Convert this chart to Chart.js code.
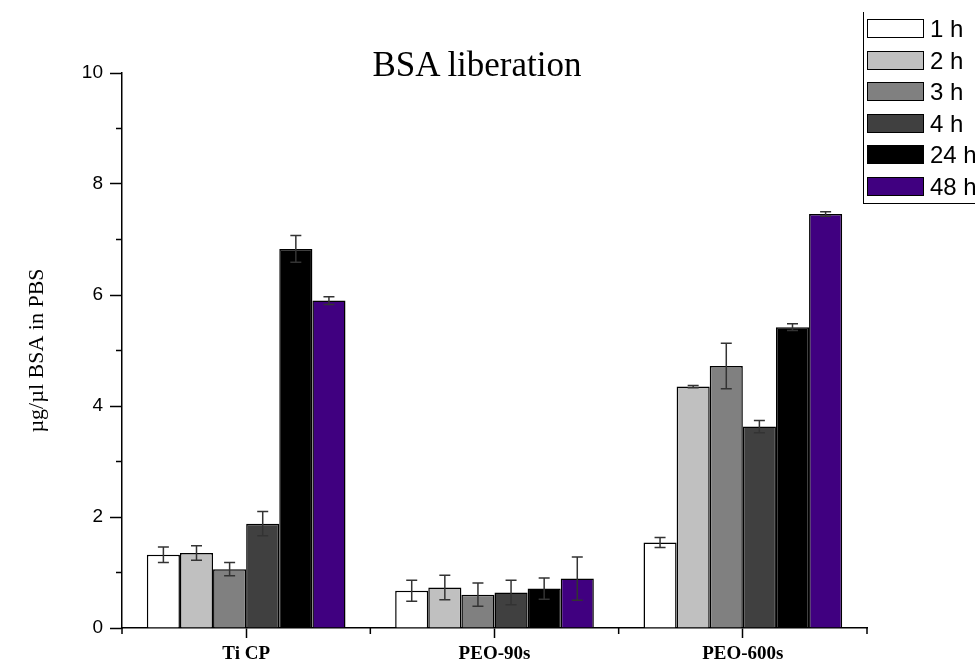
<!DOCTYPE html>
<html>
<head>
<meta charset="utf-8">
<script src="https://cdn.jsdelivr.net/npm/chart.js@4.4.0/dist/chart.umd.min.js"></script>
<style>
  body { margin: 0; background: #fff; overflow: hidden; }
  #wrap { position: relative; width: 975px; height: 663px; overflow: hidden; }
  #title { position: absolute; left: 0; top: 45px; width: 954px; text-align: center;
           font: 35px "Liberation Serif", "Times New Roman", serif; line-height: 40px; color: #000; }
  #legend { position: absolute; left: 863px; top: 12px; width: 200px; height: 191px;
            border-left: 1px solid #000; border-bottom: 1px solid #000; }
  .row { position: absolute; left: 0; height: 19px; white-space: nowrap; }
  .box { position: absolute; left: 3px; top: 0; width: 55px; height: 17px; border: 1px solid #000; }
  .lbl { position: absolute; left: 66px; top: -4px; line-height: 19px;
         font: 24px "Liberation Sans", Arial, sans-serif; color: #000; }
</style>
</head>
<body>
<div id="wrap">
  <canvas id="myChart" width="975" height="663"></canvas>
  <div id="title">BSA liberation</div>
  <div id="legend"></div>
</div>
<script>
const categories = ['Ti CP', 'PEO-90s', 'PEO-600s'];
const seriesNames = ['1 h', '2 h', '3 h', '4 h', '24 h', '48 h'];

const h1 = [1.32, 0.67, 1.54];
const h2 = [1.35, 0.73, 4.35];
const h3 = [1.06, 0.60, 4.72];
const h4 = [1.88, 0.64, 3.63];
const h24 = [6.83, 0.71, 5.42];
const h48 = [5.90, 0.89, 7.46];

const err1 = [0.14, 0.19, 0.09];
const err2 = [0.13, 0.22, 0.02];
const err3 = [0.12, 0.21, 0.41];
const err4 = [0.22, 0.22, 0.11];
const err24 = [0.24, 0.19, 0.06];
const err48 = [0.07, 0.39, 0.04];

const yTicks = [0, 2, 4, 6, 8, 10];

const colors = ['#ffffff', '#c0c0c0', '#808080', '#404040', '#000000', '#400080'];

const values = [h1, h2, h3, h4, h24, h48];
const errors = [err1, err2, err3, err4, err24, err48];

// legend as html, frame is cut by the right edge like in the figure
const legend = document.getElementById('legend');
for (let i = 0; i < seriesNames.length; i++) {
    const row = document.createElement('div');
    row.className = 'row';
    row.style.top = (7 + i * 31.6) + 'px';
    row.innerHTML = '<div class="box" style="background:' + colors[i] + '"></div><div class="lbl">' + seriesNames[i] + '</div>';
    legend.appendChild(row);
}

const errorBars = {
    id: 'errorBars',
    afterDatasetsDraw(chart) {
        const ctx = chart.ctx;
        const y = chart.scales.y;
        ctx.save();
        ctx.strokeStyle = '#333';
        ctx.lineWidth = 1.5;
        for (let i = 0; i < values.length; i++) {
            const meta = chart.getDatasetMeta(i);
            for (let j = 0; j < meta.data.length; j++) {
                const x = meta.data[j].x;
                const top = y.getPixelForValue(values[i][j] + errors[i][j]);
                const bot = y.getPixelForValue(values[i][j] - errors[i][j]);
                ctx.beginPath();
                ctx.moveTo(x, top); ctx.lineTo(x, bot);
                ctx.moveTo(x - 5.5, top); ctx.lineTo(x + 5.5, top);
                ctx.moveTo(x - 5.5, bot); ctx.lineTo(x + 5.5, bot);
                ctx.stroke();
            }
        }
        ctx.restore();
    }
};

const minorTicks = {
    id: 'minorTicks',
    afterDraw(chart) {
        const ctx = chart.ctx;
        const y = chart.scales.y;
        const x = chart.scales.x;
        ctx.save();
        ctx.strokeStyle = '#000';
        ctx.lineWidth = 1.5;
        ctx.beginPath();
        for (let v = 1; v < 10; v += 2) {
            const py = y.getPixelForValue(v);
            ctx.moveTo(x.left - 6, py); ctx.lineTo(x.left, py);
        }
        for (let i = 0; i <= categories.length; i++) {
            const px = x.getPixelForValue(i - 0.5);
            ctx.moveTo(px, y.bottom); ctx.lineTo(px, y.bottom + 6);
        }
        ctx.stroke();
        ctx.restore();
    }
};

new Chart(document.getElementById('myChart'), {
    type: 'bar',
    data: {
        labels: categories,
        datasets: seriesNames.map((name, i) => ({
            label: name,
            data: values[i],
            backgroundColor: colors[i],
            borderColor: '#000',
            borderWidth: 1.5,
            barPercentage: 1,
            categoryPercentage: 0.8
        }))
    },
    options: {
        responsive: false,
        animation: false,
        layout: { padding: { top: 73, right: 108, left: 0, bottom: 0 } },
        plugins: { legend: { display: false }, tooltip: { enabled: false } },
        scales: {
            x: {
                offset: true,
                afterFit: s => { s.height = 35; },
                grid: { offset: false, drawOnChartArea: false, tickLength: 10, tickColor: '#000', tickWidth: 1.5 },
                border: { color: '#000', width: 1.5 },
                ticks: { color: '#000', padding: 5, font: { family: '"Liberation Serif", "Times New Roman", serif', size: 19, weight: 'bold' } }
            },
            y: {
                min: 0,
                max: 10,
                afterFit: s => { s.width = 122; },
                afterBuildTicks: s => { s.ticks = [0, 1, 2, 3, 4, 5, 6, 7, 8, 9, 10].map(v => ({ value: v })); },
                grid: {
                    drawOnChartArea: false, tickLength: 12, tickWidth: 1.5,
                    tickColor: c => (yTicks.includes(c.tick.value) ? '#000' : 'rgba(0,0,0,0)')
                },
                border: { color: '#000', width: 1.5 },
                ticks: {
                    color: '#000', padding: 7,
                    font: { family: '"Liberation Sans", Arial, sans-serif', size: 19 },
                    callback: v => (yTicks.includes(v) ? String(v) : '')
                },
                title: {
                    display: true, text: 'µg/µl BSA in PBS', color: '#000',
                    padding: { top: 24, bottom: 0 },
                    font: { family: '"Liberation Serif", "Times New Roman", serif', size: 22 }
                }
            }
        }
    },
    plugins: [errorBars, minorTicks]
});
</script>
</body>
</html>
